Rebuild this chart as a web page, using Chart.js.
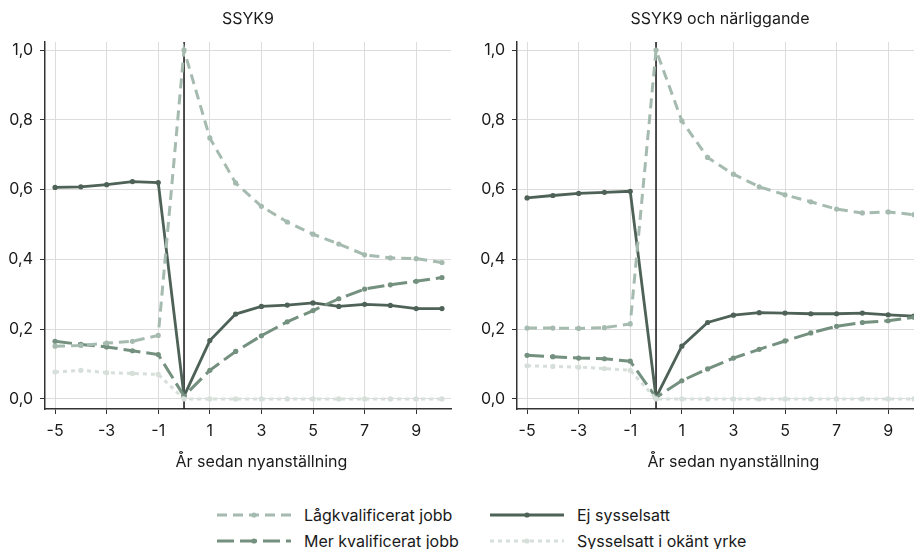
<!DOCTYPE html>
<html lang="sv">
<head>
<meta charset="UTF-8" />
<title>SSYK9</title>
<script src="https://cdn.jsdelivr.net/npm/chart.js"></script>
<style>
  html, body { margin: 0; padding: 0; background: #fff; overflow: hidden; }
  body { width: 914px; height: 549px; position: relative; font-family: Inter, "Liberation Sans", Arial, sans-serif; color: #1a1a1a; }
  canvas { position: absolute; top: 0; }
  #left { left: 0; }
  #right { left: 472px; }
  .legend { position: absolute; font-size: 16px; line-height: 20px; display: flex; align-items: center; white-space: nowrap; }
  .legend svg { margin-right: 13px; }
</style>
</head>
<body>
<canvas id="left" width="460" height="480"></canvas>
<canvas id="right" width="460" height="480"></canvas>

<div class="legend" style="left:217px; top:505px;"><svg width="74" height="10" id="lg0"></svg>Lågkvalificerat jobb</div>
<div class="legend" style="left:490px; top:505px;"><svg width="74" height="10" id="lg1"></svg>Ej sysselsatt</div>
<div class="legend" style="left:217px; top:531px;"><svg width="74" height="10" id="lg2"></svg>Mer kvalificerat jobb</div>
<div class="legend" style="left:490px; top:531px;"><svg width="74" height="10" id="lg3"></svg>Sysselsatt i okänt yrke</div>

<script>
  // years relative to hiring
  const years = [-5, -4, -3, -2, -1, 0, 1, 2, 3, 4, 5, 6, 7, 8, 9, 10];
  const xTicks = [-5, -3, -1, 1, 3, 5, 7, 9];
  const yTicks = [0, 0.2, 0.4, 0.6, 0.8, 1.0];

  // SSYK9
  const lagLeft = [0.151, 0.153, 0.160, 0.165, 0.182, 1.0, 0.748, 0.619, 0.552, 0.507, 0.472, 0.444, 0.413, 0.404, 0.402, 0.391];
  const ejLeft  = [0.606, 0.608, 0.614, 0.623, 0.620, 0.008, 0.167, 0.243, 0.265, 0.269, 0.275, 0.265, 0.271, 0.268, 0.259, 0.259];
  const merLeft = [0.165, 0.156, 0.149, 0.138, 0.127, 0.008, 0.082, 0.136, 0.181, 0.221, 0.253, 0.287, 0.315, 0.327, 0.337, 0.348];
  const okLeft  = [0.077, 0.082, 0.075, 0.073, 0.070, 0, 0, 0, 0, 0, 0, 0, 0, 0, 0, 0];

  // SSYK9 och närliggande
  const lagRight = [0.203, 0.203, 0.202, 0.204, 0.215, 1.0, 0.797, 0.692, 0.644, 0.608, 0.585, 0.565, 0.544, 0.533, 0.536, 0.528];
  const ejRight  = [0.576, 0.583, 0.589, 0.592, 0.595, 0.004, 0.151, 0.219, 0.240, 0.247, 0.246, 0.244, 0.244, 0.246, 0.241, 0.237];
  const merRight = [0.125, 0.121, 0.117, 0.115, 0.108, 0.004, 0.052, 0.086, 0.117, 0.142, 0.166, 0.189, 0.208, 0.219, 0.224, 0.234];
  const okRight  = [0.095, 0.093, 0.091, 0.087, 0.082, 0, 0, 0, 0, 0, 0, 0, 0, 0, 0, 0];

  const xTitle = "År sedan nyanställning";

  const styles = {
    lag: { label: "Lågkvalificerat jobb", color: "#a6bbb0", dash: [10, 6], width: 3 },
    ej:  { label: "Ej sysselsatt", color: "#4e6258", dash: [], width: 2.8 },
    mer: { label: "Mer kvalificerat jobb", color: "#74907f", dash: [17, 6], width: 3 },
    ok:  { label: "Sysselsatt i okänt yrke", color: "#d6dfd9", dash: [4, 4], width: 3 }
  };

  Chart.defaults.font.family = 'Inter, "Liberation Sans", Arial, sans-serif';
  Chart.defaults.font.size = 16;
  Chart.defaults.color = "#1a1a1a";

  function ds(key, values) {
    const s = styles[key];
    return {
      label: s.label,
      data: years.map((x, i) => ({ x: x, y: values[i] })),
      borderColor: s.color,
      backgroundColor: s.color,
      borderDash: s.dash,
      borderWidth: s.width,
      pointRadius: 2.6,
      pointBorderWidth: 0,
      pointBackgroundColor: s.color,
      tension: 0
    };
  }

  // black vertical line at year 0 (under the data) and the x axis title
  const extras = {
    id: "extras",
    beforeDatasetsDraw(chart) {
      const { ctx, chartArea, scales } = chart;
      const x = scales.x.getPixelForValue(0);
      ctx.save();
      ctx.strokeStyle = "#111";
      ctx.lineWidth = 1.5;
      ctx.beginPath();
      ctx.moveTo(x, chartArea.top);
      ctx.lineTo(x, chartArea.bottom);
      ctx.stroke();
      ctx.restore();
    },
    afterDraw(chart) {
      const { ctx, scales } = chart;
      ctx.save();
      ctx.font = '16px Inter, "Liberation Sans", Arial, sans-serif';
      ctx.fillStyle = "#1a1a1a";
      ctx.textAlign = "center";
      ctx.textBaseline = "middle";
      ctx.fillText(xTitle, scales.x.getPixelForValue(3), 462);
      ctx.restore();
    }
  };

  function makeChart(id, title, lag, ej, mer, ok) {
    new Chart(document.getElementById(id), {
      type: "line",
      data: {
        datasets: [ds("ok", ok), ds("lag", lag), ds("mer", mer), ds("ej", ej)]
      },
      options: {
        responsive: false,
        animation: false,
        layout: { padding: { left: 0, right: 9, top: 0, bottom: 0 } },
        plugins: {
          legend: { display: false },
          tooltip: { enabled: false },
          title: {
            display: true,
            text: title,
            fullSize: false,
            color: "#1a1a1a",
            font: { size: 16, weight: "normal" },
            padding: { top: 10, bottom: 12.8 }
          }
        },
        scales: {
          x: {
            type: "linear",
            min: -5.39,
            max: 10.35,
            afterBuildTicks: s => { s.ticks = xTicks.map(v => ({ value: v })); },
            afterFit: s => { s.height = 71; },
            grid: { color: "#dcdcdc", lineWidth: 1, tickColor: "#333", tickLength: 5 },
            border: { color: "#333", width: 1.5 },
            ticks: { padding: 8, color: "#1a1a1a" }
          },
          y: {
            min: -0.029,
            max: 1.023,
            afterBuildTicks: s => { s.ticks = yTicks.map(v => ({ value: v })); },
            afterFit: s => { s.width = 45; },
            grid: { color: "#dcdcdc", lineWidth: 1, tickColor: "#333", tickLength: 5 },
            border: { color: "#333", width: 1.5 },
            ticks: { padding: 7, color: "#1a1a1a", callback: v => v.toFixed(1).replace(".", ",") }
          }
        }
      },
      plugins: [extras]
    });
  }

  makeChart("left", "SSYK9", lagLeft, ejLeft, merLeft, okLeft);
  makeChart("right", "SSYK9 och närliggande", lagRight, ejRight, merRight, okRight);

  // legend samples
  ["lag", "ej", "mer", "ok"].forEach((key, i) => {
    const s = styles[key];
    const svg = document.getElementById("lg" + i);
    svg.innerHTML =
      '<line x1="0" y1="5" x2="74" y2="5" stroke="' + s.color + '" stroke-width="' + s.width +
      '" stroke-dasharray="' + (s.dash.length ? s.dash.join(",") : "none") + '"/>' +
      '<circle cx="37" cy="5" r="2.6" fill="' + s.color + '"/>';
  });
</script>
</body>
</html>
